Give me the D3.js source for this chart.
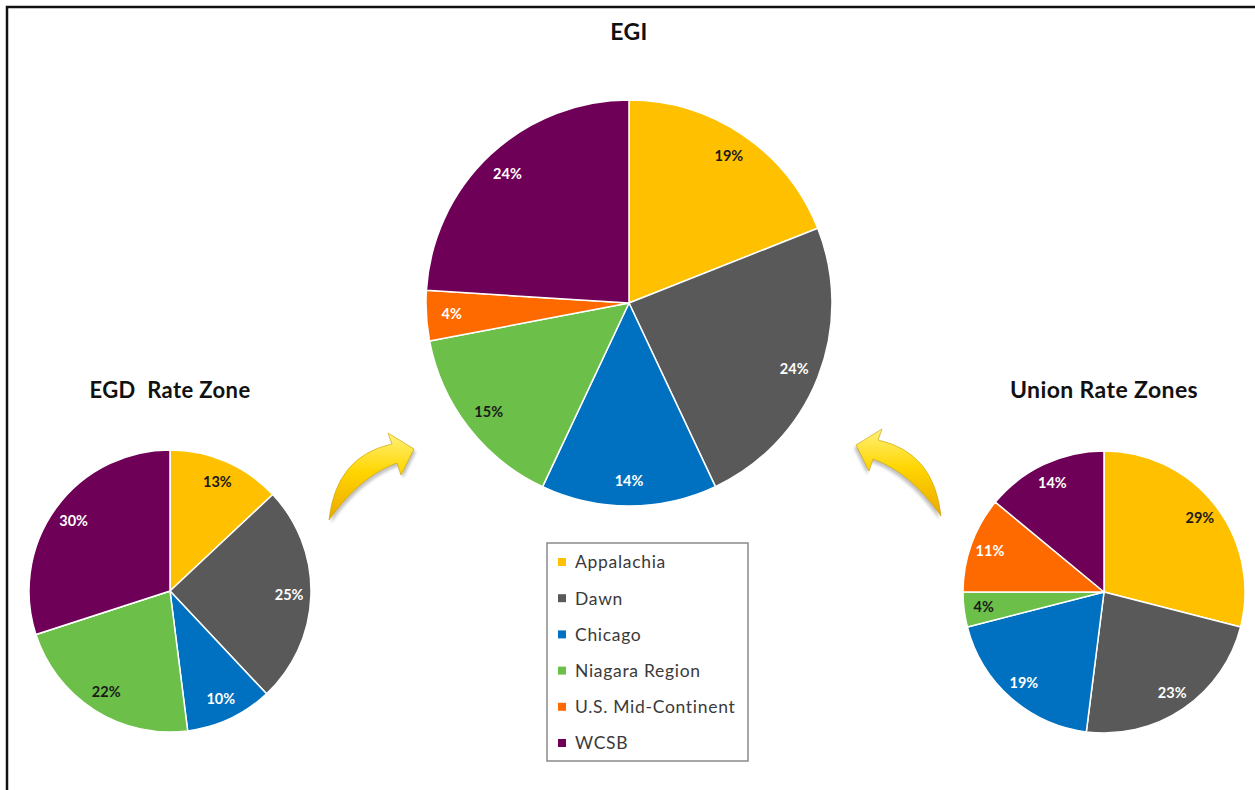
<!DOCTYPE html>
<html>
<head>
<meta charset="utf-8">
<title>EGI supply pies</title>
<script src="https://d3js.org/d3.v7.min.js"></script>
<style>
  body { margin:0; background:#fff; }
  text { font-family: Lato, "Open Sans", sans-serif; }
</style>
</head>
<body>
<script>
// categories and share of supply (%) per pie
var categories = ["Appalachia", "Dawn", "Chicago", "Niagara Region", "U.S. Mid-Continent", "WCSB"];
var colors     = ["#ffc000", "#595959", "#0070c0", "#6cbf48", "#ff6a00", "#6e0058"];
var darkLabel  = [true, false, false, true, false, false];

var egiValues   = [19, 24, 14, 15, 4, 24];
var egdValues   = [13, 25, 10, 22, 0, 30];
var unionValues = [29, 23, 19, 4, 11, 14];

var W = 1255, H = 790;

var svg = d3.select("body").append("svg")
    .attr("width", W)
    .attr("height", H);

var defs = svg.append("defs");

var grad = defs.append("linearGradient")
    .attr("id", "arrowGrad")
    .attr("x1", "0").attr("y1", "0").attr("x2", "0").attr("y2", "1");
grad.append("stop").attr("offset", "0%").attr("stop-color", "#fff27a");
grad.append("stop").attr("offset", "45%").attr("stop-color", "#ffd500");
grad.append("stop").attr("offset", "100%").attr("stop-color", "#eba900");

defs.append("filter").attr("id", "blur")
    .append("feGaussianBlur").attr("stdDeviation", 1.5);

// frame (only top and left edges are visible in the picture)
svg.append("rect")
    .attr("x", 7).attr("y", 7)
    .attr("width", W + 20).attr("height", H + 20)
    .attr("fill", "none")
    .attr("stroke", "#111")
    .attr("stroke-width", 2.5);

var pie = d3.pie().sort(null).value(function(d){ return d; });

function drawPie(values, cx, cy, r, labelF, title, titleY, titleSize) {
    var g = svg.append("g").attr("transform", "translate(" + cx + "," + cy + ")");
    var arc = d3.arc().innerRadius(0).outerRadius(r);
    var labelArc = d3.arc().innerRadius(r * labelF).outerRadius(r * labelF);
    var arcs = pie(values);

    g.selectAll("path.slice")
        .data(arcs)
        .enter().append("path")
        .attr("class", "slice")
        .attr("d", arc)
        .attr("fill", function(d, i){ return colors[i]; })
        .attr("stroke", "#fff")
        .attr("stroke-width", 1.5)
        .attr("stroke-linejoin", "round");

    g.selectAll("text.lbl")
        .data(arcs.filter(function(d){ return d.value > 0; }))
        .enter().append("text")
        .attr("class", "lbl")
        .attr("transform", function(d){ return "translate(" + labelArc.centroid(d) + ")"; })
        .attr("text-anchor", "middle")
        .attr("dy", "0.36em")
        .attr("font-size", "14.5px")
        .attr("font-weight", "bold")
        .attr("fill", function(d){ return darkLabel[d.index] ? "#1a1a1a" : "#ffffff"; })
        .text(function(d){ return d.value + "%"; });

    svg.append("text")
        .attr("x", cx)
        .attr("y", titleY)
        .attr("text-anchor", "middle")
        .attr("font-size", titleSize)
        .attr("font-weight", "bold")
        .attr("letter-spacing", "0.4px")
        .attr("fill", "#111")
        .attr("xml:space", "preserve")
        .style("white-space", "pre")
        .text(title);
}

drawPie(egiValues, 629, 303, 203, 0.875, "EGI", 40, "23px");
drawPie(egdValues, 170, 591, 141, 0.845, "EGD  Rate Zone", 398, "22px");
drawPie(unionValues, 1104, 592, 141, 0.86, "Union Rate Zones", 398, "23px");

// curved yellow arrows pointing into the EGI pie
var arrowD = "M329,520 Q336,456 392,444 L388,433 L414,449 L401,475 L397,463 Q360,476 329,520 Z";

function drawArrow(transform) {
    var a = svg.append("g").attr("transform", transform);
    a.append("path")
        .attr("d", arrowD)
        .attr("transform", "translate(2,3)")
        .attr("fill", "#888")
        .attr("opacity", 0.5)
        .attr("filter", "url(#blur)");
    a.append("path")
        .attr("d", arrowD)
        .attr("fill", "url(#arrowGrad)")
        .attr("stroke", "#c9a000")
        .attr("stroke-width", 0.6);
}
drawArrow("");
drawArrow("translate(1270,-4) scale(-1,1)");

// legend
var legend = svg.append("g");
legend.append("rect")
    .attr("x", 547).attr("y", 543)
    .attr("width", 201).attr("height", 218)
    .attr("fill", "#fff")
    .attr("stroke", "#8a8a8a")
    .attr("stroke-width", 1.5);

var rowY = d3.scalePoint().domain(categories).range([562, 743]);

var item = legend.selectAll("g.item")
    .data(categories)
    .enter().append("g")
    .attr("class", "item")
    .attr("transform", function(d){ return "translate(0," + rowY(d) + ")"; });

item.append("rect")
    .attr("x", 558).attr("y", -4)
    .attr("width", 8).attr("height", 8)
    .attr("fill", function(d, i){ return colors[i]; });

item.append("text")
    .attr("x", 575)
    .attr("dy", "0.36em")
    .attr("font-size", "17.5px")
    .attr("fill", "#3a3a3a")
    .attr("letter-spacing", "0.7px")
    .text(function(d){ return d; });
</script>
</body>
</html>
